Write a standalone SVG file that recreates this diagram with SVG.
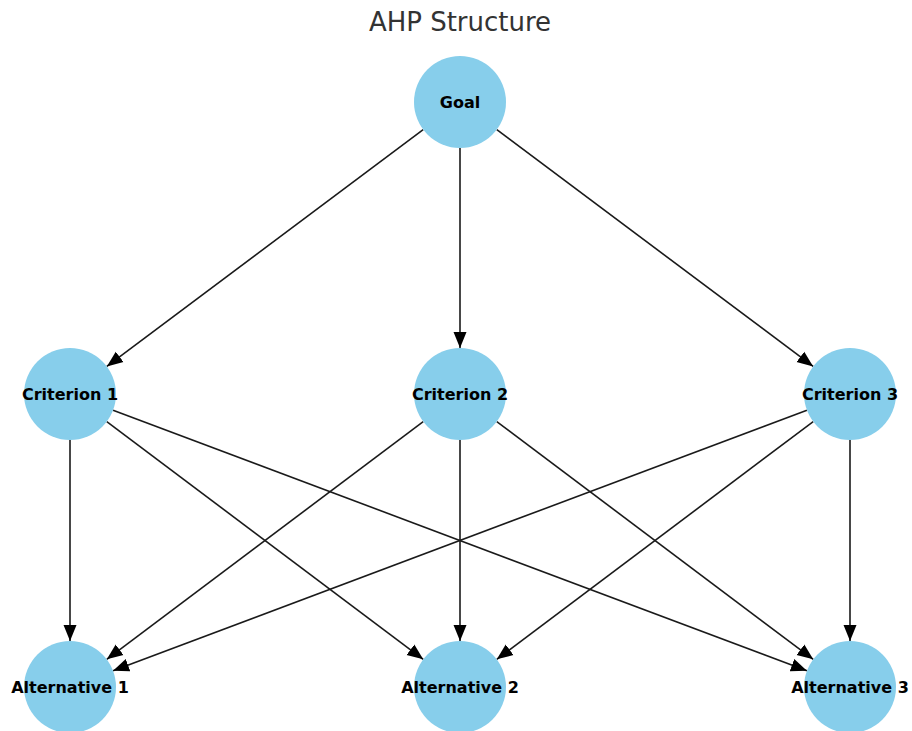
<svg xmlns="http://www.w3.org/2000/svg" width="912" height="731" viewBox="0 0 912 731">
<style>
.node circle{fill:#87CEEB;}
.node text{font-family:"DejaVu Sans",sans-serif;font-weight:bold;font-size:16px;fill:#000;text-anchor:middle;dominant-baseline:central;}
.edges line{stroke:#1a1a1a;stroke-width:1.6;marker-end:url(#ah);}
.title{font-family:"DejaVu Sans",sans-serif;font-size:26px;fill:#333;text-anchor:middle;}
</style>
<defs>
<marker id="ah" markerUnits="userSpaceOnUse" markerWidth="17" markerHeight="14" refX="16" refY="6.5" orient="auto" viewBox="0 0 17 13">
<path d="M0,0 L16,6.5 L0,13 z" fill="#000"/>
</marker>
</defs>
<rect width="912" height="731" fill="#fff"/>
<text class="title" x="460" y="31">AHP Structure</text>
<g id="edges" class="edges">
<line x1="423.18" y1="129.57" x2="106.82" y2="366.43"/>
<line x1="460" y1="148" x2="460" y2="348"/>
<line x1="496.82" y1="129.57" x2="813.18" y2="366.43"/>
<line x1="70" y1="440" x2="70" y2="641"/>
<line x1="106.78" y1="421.63" x2="423.22" y2="659.37"/>
<line x1="113.06" y1="410.18" x2="806.94" y2="670.82"/>
<line x1="423.22" y1="421.63" x2="106.78" y2="659.37"/>
<line x1="460" y1="440" x2="460" y2="641"/>
<line x1="496.78" y1="421.63" x2="813.22" y2="659.37"/>
<line x1="806.94" y1="410.18" x2="113.06" y2="670.82"/>
<line x1="813.22" y1="421.63" x2="496.78" y2="659.37"/>
<line x1="850" y1="440" x2="850" y2="641"/>
</g>
<g id="goal" class="node"><circle cx="460" cy="102" r="46"/><text x="460" y="102">Goal</text></g>
<g id="criterion1" class="node"><circle cx="70" cy="394" r="46"/><text x="70" y="394">Criterion 1</text></g>
<g id="criterion2" class="node"><circle cx="460" cy="394" r="46"/><text x="460" y="394">Criterion 2</text></g>
<g id="criterion3" class="node"><circle cx="850" cy="394" r="46"/><text x="850" y="394">Criterion 3</text></g>
<g id="alternative1" class="node"><circle cx="70" cy="687" r="46"/><text x="70" y="687">Alternative 1</text></g>
<g id="alternative2" class="node"><circle cx="460" cy="687" r="46"/><text x="460" y="687">Alternative 2</text></g>
<g id="alternative3" class="node"><circle cx="850" cy="687" r="46"/><text x="850" y="687">Alternative 3</text></g>
</svg>
